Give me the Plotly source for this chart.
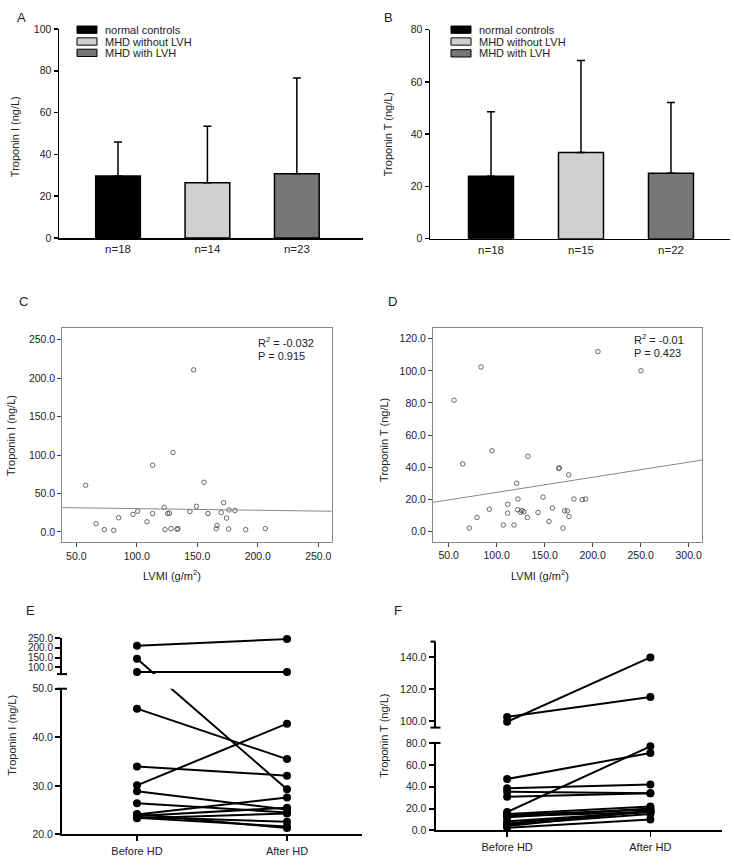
import plotly.graph_objects as go

# ---------------- data ----------------
groups = ["normal controls", "MHD without LVH", "MHD with LVH"]
bar_colors = ["#000000", "#d0d0d0", "#777777"]

tni_mean = [29.7, 26.5, 30.8]
tni_sd = [16.3, 27.0, 45.7]
tni_n = ["n=18", "n=14", "n=23"]

tnt_mean = [23.9, 33.0, 25.1]
tnt_sd = [24.7, 35.2, 27.0]
tnt_n = ["n=18", "n=15", "n=22"]

c_lvmi = [57.7, 66.3, 73.1, 80.9, 85.0, 96.8, 100.7, 108.4, 113.1, 113.1, 122.7, 123.3,
          125.5, 126.9, 128.2, 129.9, 133.2, 134.0, 143.9, 147.0, 149.2, 155.5, 158.8,
          165.7, 166.3, 169.8, 171.8, 174.2, 175.9, 176.2, 181.1, 190.0, 206.2]
c_tni = [60.7, 10.7, 3.0, 2.1, 18.4, 22.7, 26.9, 13.2, 86.8, 23.9, 32.1, 3.0,
         23.9, 24.4, 4.3, 103.4, 3.4, 4.3, 26.5, 210.7, 33.3, 64.5, 23.9,
         4.3, 8.5, 25.2, 38.0, 18.0, 3.8, 28.6, 27.8, 3.0, 4.3]
c_fit_intercept, c_fit_slope = 32.4, -0.0211
c_stats = ["R<sup>2</sup> = -0.032", "P = 0.915"]

d_lvmi = [55.6, 64.6, 71.5, 79.5, 83.7, 92.4, 95.1, 106.9, 111.5, 111.5, 118.1, 120.8,
          121.9, 122.2, 125.0, 126.4, 128.5, 131.9, 132.6, 143.1, 148.3, 154.5, 158.0,
          164.6, 165.3, 169.1, 170.8, 173.6, 175.0, 175.3, 180.5, 189.2, 192.7, 205.5, 250.3]
d_tnt = [81.7, 42.0, 2.0, 8.6, 102.4, 13.7, 50.2, 3.9, 16.8, 11.3, 3.9, 29.9,
         13.5, 20.1, 11.9, 12.9, 12.1, 8.6, 46.7, 11.7, 21.3, 6.1, 14.5,
         39.1, 39.5, 2.0, 12.7, 12.7, 35.2, 9.2, 20.1, 19.7, 20.1, 112.0, 100.1]
d_fit_intercept, d_fit_slope = 14.83, 0.0942
d_stats = ["R<sup>2</sup> = -0.01", "P = 0.423"]

hd_labels = ["Before HD", "After HD"]
e_before = [210.9, 143.2, 75.6, 45.9, 30.1, 34.0, 28.9, 26.4, 24.1, 23.8, 23.6, 23.4, 23.3, 24.2]
e_after = [245.0, 29.3, 75.6, 35.5, 42.8, 32.1, 25.1, 24.5, 27.6, 25.5, 22.6, 21.6, 24.3, 21.3]

f_before = [99.5, 102.5, 47.0, 16.8, 38.5, 35.4, 30.9, 15.0, 14.0, 13.0, 12.0, 8.4, 5.4, 4.0, 2.4, 6.5]
f_after = [140.0, 115.0, 70.9, 76.9, 42.1, 34.0, 34.0, 21.9, 18.9, 16.8, 20.0, 16.8, 15.0, 18.0, 9.9, 17.5]

# ---------------- layout helpers ----------------
W, H = 734, 867
FONT = "Liberation Sans, Arial, sans-serif"
TXT = "#222222"


def px_x(X):
    return min(1.0, max(0.0, X / W))


def px_y(Y):
    return min(1.0, max(0.0, 1 - Y / H))


def xdom(a, b):
    return [px_x(a), px_x(b)]


def ydom(top, bottom):
    return [px_y(bottom), px_y(top)]


fig = go.Figure()
shapes = []
annotations = []

axis_common = dict(showgrid=False, zeroline=False, showline=True, linecolor="black",
                   tickfont=dict(family=FONT, size=10.5, color=TXT), ticks="outside",
                   tickcolor="black")


def add_text(X, Y, text, size=11, xanchor="left", angle=0):
    annotations.append(dict(x=px_x(X), y=px_y(Y), xref="paper", yref="paper", text=text,
                            showarrow=False, xanchor=xanchor, yanchor="middle", textangle=angle,
                            font=dict(family=FONT, size=size, color=TXT)))


def hline(X0, X1, Y, width=2):
    shapes.append(dict(type="line", xref="paper", yref="paper",
                       x0=px_x(X0), x1=px_x(X1), y0=px_y(Y), y1=px_y(Y),
                       line=dict(color="black", width=width)))


# ---------------- bar panels A & B ----------------
def bar_panel(idx, means, sds, nlabels, xd, yd, xr, yr, ytick_step, legend_x, legend_ys, ylab, ylab_pos, letter, letter_pos):
    xa = "x" if idx == 1 else f"x{idx}"
    ya = "y" if idx == 1 else f"y{idx}"
    for i in range(3):
        fig.add_trace(go.Bar(
            x=[i], y=[means[i]], width=0.5, xaxis=xa, yaxis=ya,
            marker=dict(color=bar_colors[i], line=dict(color="black", width=1.5)),
            error_y=dict(type="data", symmetric=False, array=[sds[i]], arrayminus=[0],
                         color="black", thickness=1.5, width=4),
            showlegend=False))
    key = "" if idx == 1 else str(idx)
    fig.layout["xaxis" + key] = dict(axis_common, domain=xd, range=xr, anchor=ya, ticks="",
                                     tickvals=[0, 1, 2], ticktext=nlabels, linewidth=1.5,
                                     tickfont=dict(family=FONT, size=11.5, color=TXT))
    fig.layout["yaxis" + key] = dict(axis_common, domain=yd, range=yr, anchor=xa, linewidth=1.5,
                                     tickwidth=1.5, ticklen=4, dtick=ytick_step, tick0=0)
    for i, g in enumerate(groups):
        yc = legend_ys[i]
        shapes.append(dict(type="rect", xref="paper", yref="paper",
                           x0=px_x(legend_x), x1=px_x(legend_x + 20),
                           y0=px_y(yc + 3.7), y1=px_y(yc - 3.7),
                           fillcolor=bar_colors[i], line=dict(color="black", width=1)))
        add_text(legend_x + 26, yc, g)
    add_text(ylab_pos[0], ylab_pos[1], ylab, angle=-90, xanchor="center")
    add_text(letter_pos[0], letter_pos[1], letter, size=13, xanchor="center")


bar_panel(1, tni_mean, tni_sd, tni_n, xdom(59, 363), ydom(23.3, 235.3), [-0.66, 2.74], [0, 100], 20,
          77, [24, 36, 47.5], "Troponin I (ng/L)", (15, 133), "A", (21, 12))
bar_panel(2, tnt_mean, tnt_sd, tnt_n, xdom(430, 730), ydom(24, 236), [-0.678, 2.656], [0, 80], 20,
          451, [24, 36, 48], "Troponin T (ng/L)", (388, 130), "B", (388, 12))


# ---------------- scatter panels C & D ----------------
def scatter_panel(idx, xs, ys, b0, b1, stats, xd, yd, xr, yr, xt, yt, ylab, ylab_pos, xlab_pos, stat_pos, letter, letter_pos):
    xa, ya = f"x{idx}", f"y{idx}"
    fig.add_trace(go.Scatter(x=xs, y=ys, mode="markers", xaxis=xa, yaxis=ya,
                             marker=dict(symbol="circle-open", size=4.5, color="#444444",
                                         line=dict(width=0.8, color="#444444")),
                             showlegend=False))
    fx = [xr[0], xr[1]]
    fig.add_trace(go.Scatter(x=fx, y=[b0 + b1 * v for v in fx], mode="lines", xaxis=xa, yaxis=ya,
                             line=dict(color="#888888", width=1), showlegend=False))
    fig.layout[f"xaxis{idx}"] = dict(axis_common, domain=xd, range=xr, anchor=ya, mirror=True,
                                     linecolor="#888888", linewidth=1, ticklen=4, tickcolor="#444",
                                     tickvals=xt, ticktext=[f"{v:.1f}" for v in xt])
    fig.layout[f"yaxis{idx}"] = dict(axis_common, domain=yd, range=yr, anchor=xa, mirror=True,
                                     linecolor="#888888", linewidth=1, ticklen=4, tickcolor="#444",
                                     tickvals=yt, ticktext=[f"{v:.1f}" for v in yt])
    add_text(stat_pos[0], stat_pos[1], stats[0])
    add_text(stat_pos[0], stat_pos[1] + 14, stats[1])
    add_text(ylab_pos[0], ylab_pos[1], ylab, angle=-90, xanchor="center")
    add_text(xlab_pos[0], xlab_pos[1], "LVMI (g/m<sup>2</sup>)", xanchor="center")
    add_text(letter_pos[0], letter_pos[1], letter, size=13, xanchor="center")


scatter_panel(3, c_lvmi, c_tni, c_fit_intercept, c_fit_slope, c_stats,
              xdom(62.3, 331.7), ydom(326.7, 544), [38.4, 261.1], [-13.7, 264.9],
              [50, 100, 150, 200, 250], [0, 50, 100, 150, 200, 250],
              "Troponin I (ng/L)", (11, 436), (172, 577), (256, 341), "C", (23, 300))
scatter_panel(4, d_lvmi, d_tnt, d_fit_intercept, d_fit_slope, d_stats,
              xdom(433, 702), ydom(326.7, 543.3), [33.7, 313.9], [-6.55, 126.6],
              [50, 100, 150, 200, 250, 300], [0, 20, 40, 60, 80, 100, 120],
              "Troponin T (ng/L)", (384, 440), (540, 577), (632, 338), "D", (392, 300))


# ---------------- paired panels E & F (broken y axis) ----------------
def paired_panel(ix, iy_lo, iy_hi, before, after, xd, x_left, lo_px, up_px, lo_rng, up_rng,
                 lo_ticks, up_ticks, top_cap, up_font, ylab, ylab_pos, letter, letter_pos):
    lo_h = lo_px[1] - lo_px[0]
    up_h = up_px[1] - up_px[0]
    gap_h = lo_px[0] - up_px[1]
    k = (lo_rng[1] - lo_rng[0]) / lo_h

    def tv(v):
        if v <= lo_rng[1]:
            return v
        return lo_rng[1] + gap_h * k + (v - up_rng[0]) * (up_h * k / (up_rng[1] - up_rng[0]))

    xa, ya_lo, ya_hi = f"x{ix}", f"y{iy_lo}", f"y{iy_hi}"
    lx, ly = [], []
    for b, a in zip(before, after):
        lx += [0, 1, None]
        ly += [tv(b), tv(a), None]
    for ya in (ya_lo, ya_hi):
        fig.add_trace(go.Scatter(x=lx, y=ly, mode="lines", xaxis=xa, yaxis=ya,
                                 line=dict(color="black", width=2), showlegend=False))
    mlo_x, mlo_y, mhi_x, mhi_y = [], [], [], []
    for b, a in zip(before, after):
        for xv, v in ((0, b), (1, a)):
            if v <= lo_rng[1]:
                mlo_x.append(xv); mlo_y.append(tv(v))
            else:
                mhi_x.append(xv); mhi_y.append(tv(v))
    for ya, mx, my in ((ya_lo, mlo_x, mlo_y), (ya_hi, mhi_x, mhi_y)):
        fig.add_trace(go.Scatter(x=mx, y=my, mode="markers", xaxis=xa, yaxis=ya, cliponaxis=False,
                                 marker=dict(color="black", size=8), showlegend=False))
    fig.layout[f"xaxis{ix}"] = dict(axis_common, domain=xd, range=[-0.5, 1.5], anchor=ya_lo,
                                    tickvals=[0, 1], ticktext=hd_labels, ticklen=5, linewidth=2,
                                    tickwidth=1.5, tickfont=dict(family=FONT, size=11, color=TXT))
    fig.layout[f"yaxis{iy_lo}"] = dict(axis_common, domain=ydom(lo_px[0], lo_px[1]), range=lo_rng,
                                       anchor=xa, tickvals=lo_ticks, linewidth=2, tickwidth=2, ticklen=5,
                                       ticktext=[f"{v:.1f}" for v in lo_ticks])
    fig.layout[f"yaxis{iy_hi}"] = dict(axis_common, domain=ydom(up_px[0], up_px[1]),
                                       range=[tv(up_rng[0]), tv(up_rng[1])], anchor=xa,
                                       tickvals=[tv(v) for v in up_ticks], linewidth=2, tickwidth=2, ticklen=5,
                                       ticktext=[f"{v:.1f}" for v in up_ticks],
                                       tickfont=dict(family=FONT, size=up_font, color=TXT))
    for Y in (up_px[1], lo_px[0]):
        hline(x_left - 5, x_left + 5, Y)
    if top_cap:
        hline(x_left - 5, x_left, up_px[0])
    add_text(ylab_pos[0], ylab_pos[1], ylab, angle=-90, xanchor="center")
    add_text(letter_pos[0], letter_pos[1], letter, size=13, xanchor="center")


paired_panel(5, 5, 6, e_before, e_after, xdom(62, 362), 62, (692.3, 840), (641, 677.5),
             [20, 50], [64.4, 250], [20, 30, 40, 50], [100, 150, 200, 250], False, 10,
             "Troponin I (ng/L)", (12, 740), "E", (30, 613))
paired_panel(7, 7, 8, f_before, f_after, xdom(435.5, 722), 435.5, (747.3, 836), (644.5, 731.7),
             [0, 80], [95.8, 150], [0, 20, 40, 60, 80], [100, 120, 140], True, 10.5,
             "Troponin T (ng/L)", (384, 740), "F", (398, 613))

fig.update_layout(width=W, height=H, margin=dict(l=0, r=0, t=0, b=0, pad=0),
                  paper_bgcolor="white", plot_bgcolor="white", showlegend=False,
                  barmode="overlay", shapes=shapes, annotations=annotations,
                  font=dict(family=FONT, size=11, color=TXT))

fig.write_html("out.html", config={"displayModeBar": False, "staticPlot": True},
               post_script="document.body.style.margin='0';document.body.style.overflow='hidden';")
